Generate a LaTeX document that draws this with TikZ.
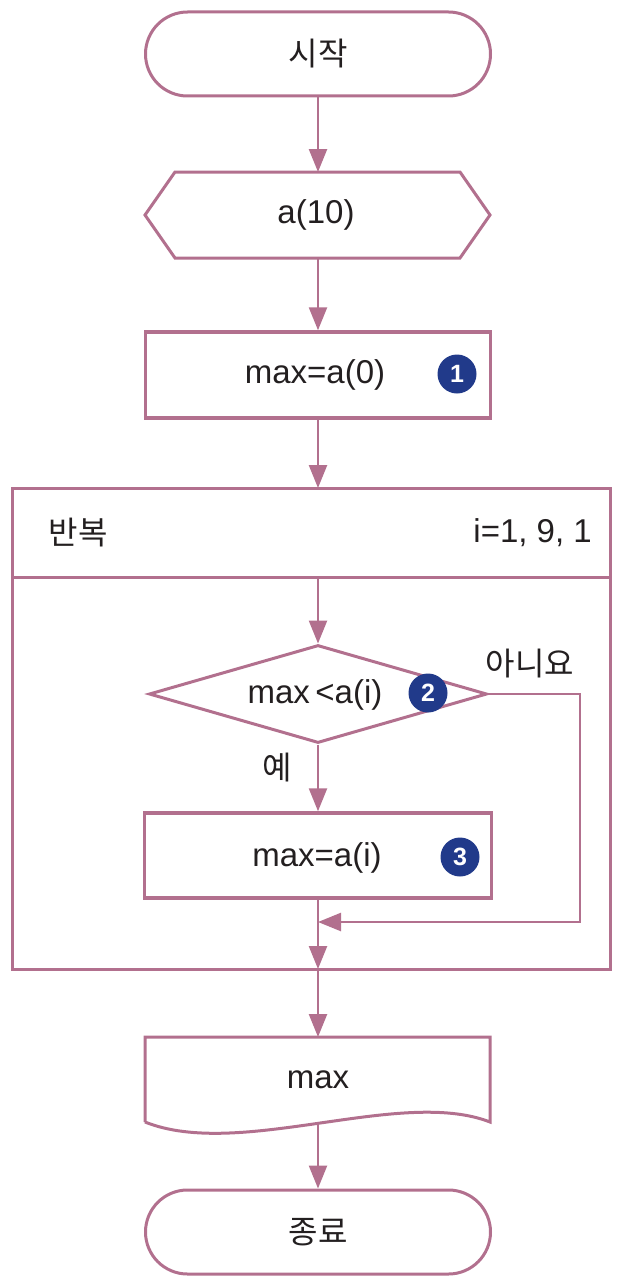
\documentclass[tikz,border=0pt]{standalone}
\usepackage{fontspec}
\setmainfont{Liberation Sans}
\newfontfamily\kr{Noto Sans CJK KR}
\usetikzlibrary{arrows.meta,shapes.geometric,shapes.misc}
\definecolor{fc}{RGB}{178,112,142}
\definecolor{bc}{RGB}{33,58,138}
\definecolor{tc}{RGB}{35,31,32}
\newcommand{\mainfs}{\fontsize{33}{38}\selectfont}
\newcommand{\krfs}{\fontsize{32}{38}\selectfont}
\newcommand{\badgefs}{\fontsize{25}{28}\selectfont\bfseries}
\begin{document}
\begin{tikzpicture}[x=1pt,y=-1pt,
  ln/.style={draw=fc, line width=3pt, line join=miter},
  boxln/.style={draw=fc, line width=3.5pt},
  arr/.style={draw=fc, line width=2.5pt, -{Triangle[length=23pt,width=18pt]}},
  txt/.style={text=tc, font=\mainfs, inner sep=0pt},
  krtxt/.style={text=tc, font=\krfs\kr, inner sep=0pt},
  badge/.style={circle, fill=bc, text=white, font=\badgefs, minimum size=39pt, inner sep=0pt},
  term/.style={rounded rectangle, draw=fc, line width=3pt, minimum width=345pt, minimum height=84pt, inner sep=0pt},
  procbox/.style={rectangle, boxln, minimum width=345pt, minimum height=86pt, inner sep=0pt},
]
\useasboundingbox (0,0) rectangle (621,1279);

% start
\node[term, text=tc, font=\krfs\kr] (start) at (318,54) {시작};

% input hexagon
\draw[ln] (145,215) -- (175,172) -- (460,172) -- (490,215) -- (460,258) -- (175,258) -- cycle;
\coordinate (inpT) at (318,172);
\coordinate (inpB) at (318,258);
\node[txt] (inp) at (316,215) {a(10)};

% process 1
\node[procbox] (p1) at (318,375) {};
\node[txt] (p1t) at (315,375) {max=a(0)};
\node[badge] (b1) at (457,374) {1};

% loop box
\draw[ln] (12,488) rectangle (610,969);
\draw[ln] (12,577) -- (610,577);
\coordinate (looptop) at (318,488);
\coordinate (loopdiv) at (318,577);
\coordinate (loopbot) at (318,969);
\node[krtxt] (rep) at (78,533) {반복};
\node[txt, anchor=east] (rng) at (592,533) {i=1, 9, 1};

% decision
\node[diamond, draw=fc, line width=3pt, minimum width=338pt, minimum height=98pt, aspect=3.45, inner sep=0pt] (dec) at (318,694) {};
\node[txt] (dect) at (315,695) {max\,<a(i)};
\node[badge] (b2) at (428,693) {2};
\node[krtxt] (no) at (530,664) {아니요};
\node[krtxt] (yes) at (277,768) {예};

% process 3
\node[procbox, minimum width=347pt, minimum height=85pt] (p3) at (318,855.5) {};
\node[txt] (p3t) at (317,858) {max=a(i)};
\node[badge] (b3) at (460,857) {3};

\coordinate (rt) at (580,922);
\coordinate (mrg) at (318,922);

% output document
\draw[ln] (145,1122) -- (145,1037) -- (490,1037) -- (490,1122)
  .. controls (400,1087) and (240,1160) .. (145,1122);
\coordinate (docT) at (318,1037);
\coordinate (docB) at (318,1123);
\node[txt] (doc) at (318,1080) {max};

% end
\node[term, text=tc, font=\krfs\kr] (end) at (318,1232) {종료};

% connectors
\draw[arr] (start.south) -- (inpT);
\draw[arr] (inpB) -- (p1.north);
\draw[arr] (p1.south) -- (looptop);
\draw[arr] (loopdiv) -- (dec.north);
\draw[arr] (dec.south) -- (p3.north);
\draw[arr] (p3.south) -- (loopbot);
\draw[arr] (dec.east) -| (rt) -- (mrg);
\draw[arr] (loopbot) -- (docT);
\draw[arr] (docB) -- (end.north);
\end{tikzpicture}
\end{document}
